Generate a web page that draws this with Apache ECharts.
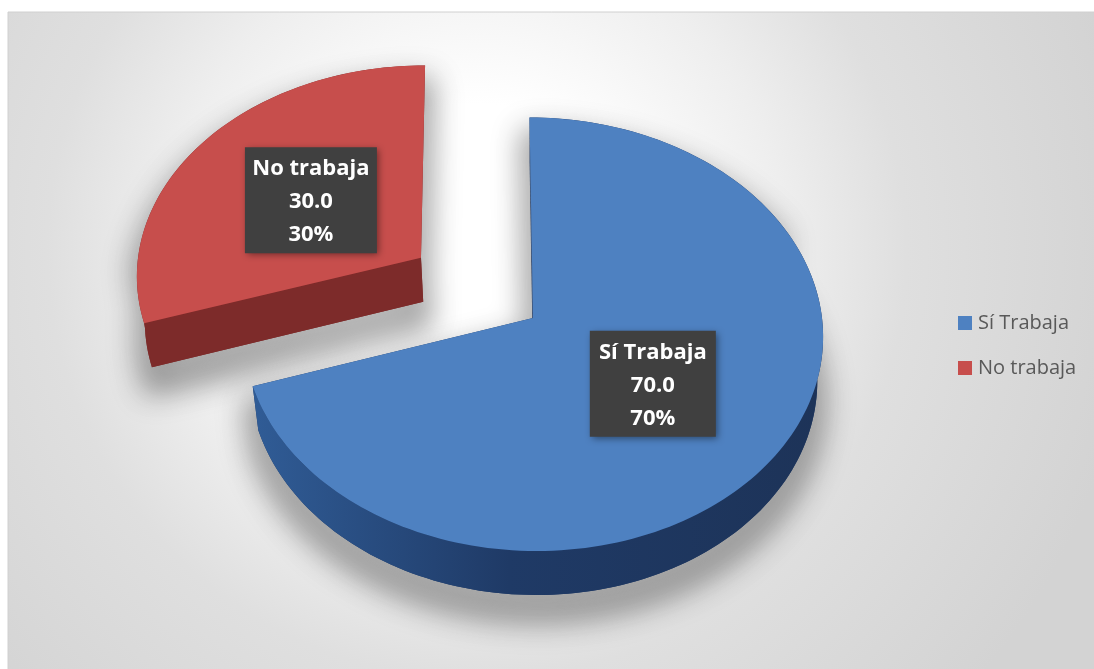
<!DOCTYPE html>
<html>
<head>
<meta charset="utf-8">
<style>html,body{margin:0;padding:0;background:#fff}#chart{width:1094px;height:669px}</style>
<script src="https://cdn.jsdelivr.net/npm/echarts@6/dist/echarts.min.js"></script>
</head>
<body>
<div id="chart"></div>
<script>
// Chart values
const categories = ['Sí Trabaja', 'No trabaja'];
const values = [70, 30];
const explodes = [0, 0.485];
const topColors = ['#4e81c1', '#c74e4c'];
const sideStops = [
  ['#305c96', '#1f3a66', '#1d3358'],
  ['#7d2b2a', '#7d2b2a', '#7d2b2a']
];

// Tilted-disc projection used for the 3D pie
const view = { cx: 533, cy: 318, rx: 289, ry: 215.5, k: 0.075, shear: 3.5, depth: 44, shrink: 0.98 };
const total = values.reduce((a, b) => a + b, 0);
const rad = d => d * Math.PI / 180;
const castOffset = 3000; // the shadow caster sits off-canvas so only its blur shows

function project(x, y, lower) {
  const w = 1 + view.k * y;
  let px = view.rx * x / w - view.shear * y;
  let py = -view.ry * y / w;
  if (lower) { px *= view.shrink; py += view.depth; }
  return [view.cx + px, view.cy + py];
}

function rimPoint(angle, off, lower) {
  return project(Math.sin(rad(angle)) + off[0], Math.cos(rad(angle)) + off[1], lower);
}

function arc(a0, a1, off, lower) {
  const pts = [];
  const n = Math.max(2, Math.ceil(Math.abs(a1 - a0) / 1.5));
  for (let i = 0; i <= n; i++) pts.push(rimPoint(a0 + (a1 - a0) * i / n, off, lower));
  return pts;
}

function renderSlice(params, api) {
  const idx = params.seriesIndex;
  const val = api.value(0);
  let before = 0;
  for (let i = 0; i < idx; i++) before += values[i];
  const a0 = before / total * 360;
  const a1 = (before + val) / total * 360;
  const mid = (a0 + a1) / 2;
  const d = explodes[idx];
  const off = [Math.sin(rad(mid)) * d, Math.cos(rad(mid)) * d];
  const apexTop = project(off[0], off[1], false);
  const apexLow = project(off[0], off[1], true);

  // outer wall: only the part of the rim facing the viewer
  const s0 = Math.max(a0, 62), s1 = Math.min(a1, 272);
  const children = [];
  let outline;
  if (s1 > s0) {
    outline = [apexTop].concat(
      a0 < s0 ? arc(a0, s0, off, false) : [],
      arc(s0, s1, off, true),
      arc(s1, a1, off, false));
    if (a0 >= s0) outline = [apexTop, apexLow].concat(arc(s0, s1, off, true), arc(s1, a1, off, false));
  } else {
    outline = [apexTop].concat(arc(a0, a1, off, false));
  }
  // soft drop shadow, a little wider than the slice
  children.push({
    type: 'polygon', x: -castOffset, shape: { points: outline },
    style: {
      fill: '#000', stroke: '#000', lineWidth: 22, lineJoin: 'round',
      shadowBlur: 28, shadowOffsetX: castOffset, shadowOffsetY: 20, shadowColor: 'rgba(0,0,0,0.25)'
    }
  });
  children.push({
    type: 'polygon', shape: { points: outline },
    style: { fill: sideStops[idx][1] }
  });
  if (s1 > s0) {
    children.push({
      type: 'polygon',
      shape: { points: arc(s0, s1, off, false).concat(arc(s0, s1, off, true).reverse()) },
      style: { fill: { type: 'linear', x: 1, y: 0, x2: 0, y2: 0, colorStops: [
        { offset: 0, color: sideStops[idx][2] },
        { offset: 0.55, color: sideStops[idx][1] },
        { offset: 1, color: sideStops[idx][0] }] } }
    });
  }
  // radial wall along the start edge
  children.push({
    type: 'polygon',
    shape: { points: [rimPoint(a0, off, false), apexTop, apexLow, rimPoint(a0, off, true)] },
    style: { fill: sideStops[idx][1] }
  });
  // top face
  children.push({
    type: 'polygon',
    shape: { points: [apexTop].concat(arc(a0, a1, off, false)) },
    style: { fill: topColors[idx] }
  });

  // data label: name, value and share
  const r = 0.497;
  const c = project(off[0] + Math.sin(rad(mid)) * r, off[1] + Math.cos(rad(mid)) * r, false);
  c[1] += 1.5;
  const pct = Math.round(val / total * 100) + '%';
  const boxW = idx === 0 ? 126 : 132, boxH = 106;
  children.push({
    type: 'rect',
    shape: { x: c[0] - boxW / 2, y: c[1] - boxH / 2, width: boxW, height: boxH },
    style: { fill: '#404040', shadowBlur: 7, shadowOffsetX: 2, shadowOffsetY: 2, shadowColor: 'rgba(0,0,0,0.45)' }
  });
  children.push({
    type: 'text',
    x: c[0], y: c[1] + 1.5,
    style: {
      text: categories[idx] + '\n' + val.toFixed(1) + '\n' + pct,
      fill: '#fff', font: 'bold 22px "Open Sans"', lineHeight: 33,
      align: 'center', verticalAlign: 'middle'
    }
  });
  return { type: 'group', children };
}

const chart = echarts.init(document.getElementById('chart'), null, { renderer: 'canvas' });
chart.setOption({
  animation: false,
  backgroundColor: '#fff',
  graphic: [{
    type: 'rect', z: -1,
    shape: { x: 8, y: 12, width: 1090, height: 660 },
    style: {
      stroke: '#d0d0d0', lineWidth: 1,
      fill: { type: 'radial', x: 0.43, y: 0.36, r: 1, colorStops: [
        { offset: 0, color: '#ffffff' },
        { offset: 0.22, color: '#ffffff' },
        { offset: 0.47, color: '#eeeeee' },
        { offset: 0.65, color: '#dfdfdf' },
        { offset: 1, color: '#d3d3d3' }] }
    }
  }],
  legend: {
    orient: 'vertical', left: 953, top: 308, itemWidth: 14, itemHeight: 14, itemGap: 25,
    selectedMode: false, icon: 'rect', data: categories,
    textStyle: { color: '#595959', fontFamily: 'Open Sans', fontSize: 20, padding: [0, 0, 0, 1] }
  },
  series: categories.map((name, i) => ({
    type: 'custom', name, coordinateSystem: 'none', z: 3 - i,
    itemStyle: { color: topColors[i] },
    data: [[values[i]]],
    renderItem: renderSlice
  }))
});
</script>
</body>
</html>
